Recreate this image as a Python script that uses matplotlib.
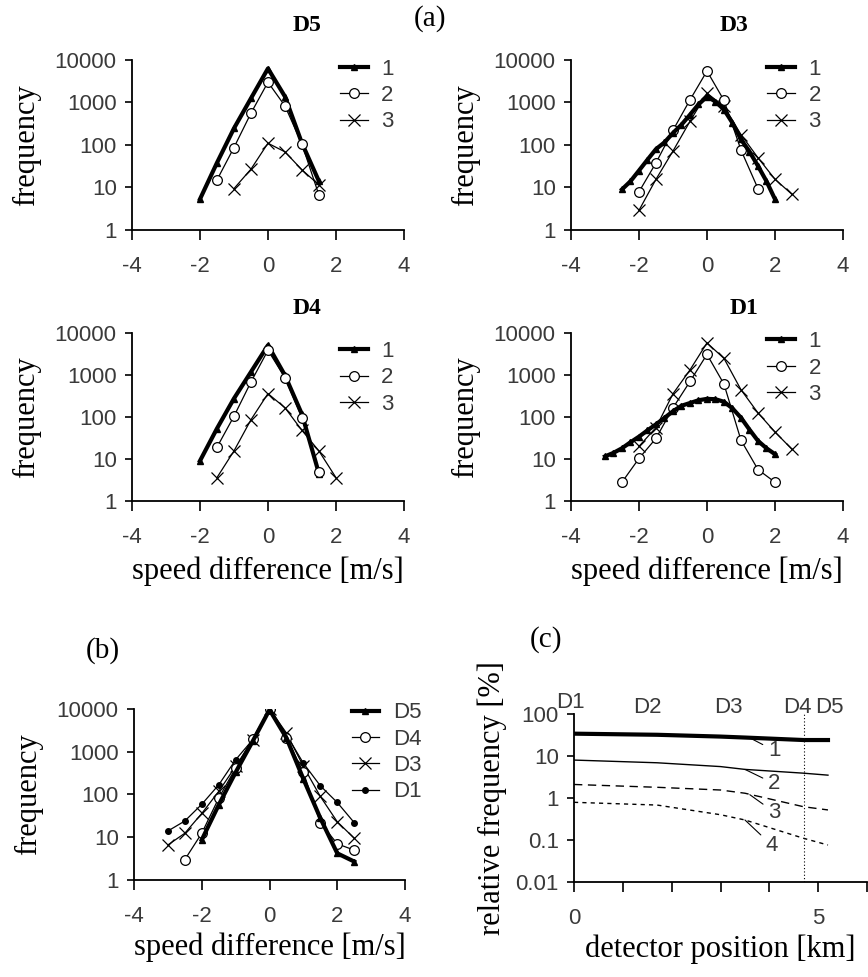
import numpy as np
import matplotlib
matplotlib.use("Agg")
import matplotlib.pyplot as plt
from matplotlib.ticker import FixedLocator, FixedFormatter, LogLocator, NullFormatter

SERIF = "Liberation Serif"
SANS = "Liberation Sans"

# ---------------------------------------------------------------------------
# Data
# ---------------------------------------------------------------------------

# (a) D5
d5_x1 = [-2, -1.5, -1, -0.5, 0, 0.5, 1, 1.5]
d5_y1 = [5.3, 38, 246, 1250, 6300, 1380, 110, 14]
d5_x2 = [-1.5, -1, -0.5, 0, 0.5, 1, 1.5]
d5_y2 = [15, 87, 560, 3000, 830, 105, 6.6]
d5_x3 = [-1, -0.5, 0, 0.5, 1, 1.5]
d5_y3 = [9.4, 27, 110, 69, 26, 11.5]

# (a) D3
d3_x1 = [-2.5, -2.25, -2, -1.75, -1.5, -1.25, -1, -0.75, -0.5, -0.25,
         0, 0.25, 0.5, 0.75, 1, 1.25, 1.5, 1.75, 2]
d3_y1 = [9, 14, 25, 45, 80, 115, 192, 300, 515, 900,
         1380, 1050, 680, 330, 135, 70, 32, 14, 5.3]
d3_x2 = [-2, -1.5, -1, -0.5, 0, 0.5, 1, 1.5]
d3_y2 = [7.9, 38, 222, 1150, 5500, 1120, 76, 9.4]
d3_x3 = [-2, -1.5, -1, -0.5, 0, 0.5, 1, 1.5, 2, 2.5]
d3_y3 = [2.9, 15.6, 72, 360, 1660, 810, 176, 50, 15.6, 6.9]

# (a) D4
d4_x1 = [-2, -1.5, -1, -0.5, 0, 0.5, 1, 1.5]
d4_y1 = [9, 53, 275, 1180, 5100, 980, 116, 4.5]
d4_x2 = [-1.5, -1, -0.5, 0, 0.5, 1, 1.5]
d4_y2 = [19, 104, 680, 3870, 860, 96, 4.9]
d4_x3 = [-1.5, -1, -0.5, 0, 0.5, 1, 1.5, 2]
d4_y3 = [3.6, 15.5, 86, 360, 166, 48, 15.5, 3.6]

# (a) D1
d1_x1 = [-3, -2.75, -2.5, -2.25, -2, -1.75, -1.5, -1.25, -1, -0.75, -0.5,
         -0.25, 0, 0.25, 0.5, 0.75, 1, 1.25, 1.5, 1.75, 2]
d1_y1 = [11.5, 14, 18, 25, 34, 48, 67, 95, 137, 185, 215,
         250, 270, 265, 230, 160, 96, 50, 27, 18, 13]
d1_x2 = [-2.5, -2, -1.5, -1, -0.5, 0, 0.5, 1, 1.5, 2]
d1_y2 = [2.8, 10.3, 31, 165, 700, 3090, 605, 28, 5.6, 2.8]
d1_x3 = [-2, -1.5, -1, -0.5, 0, 0.5, 1, 1.5, 2, 2.5]
d1_y3 = [20, 56, 357, 1320, 5800, 2480, 445, 125, 44, 17]

# (b) all detectors
b_x_d5 = [-2, -1.5, -1, -0.5, 0, 0.5, 1, 1.5, 2, 2.5]
b_y_d5 = [8.7, 57, 330, 1740, 9600, 2100, 230, 28, 4.2, 2.7]
b_x_d4 = [-2.5, -2, -1.5, -1, -0.5, 0, 0.5, 1, 1.5, 2, 2.5]
b_y_d4 = [3, 12.4, 82, 415, 2000, 10000, 2100, 330, 22, 7, 5]
b_x_d3 = [-3, -2.5, -2, -1.5, -1, -0.5, 0, 0.5, 1, 1.5, 2, 2.5]
b_y_d3 = [6.6, 12.4, 36, 118, 455, 1900, 10000, 2740, 455, 90, 23, 9.5]
b_x_d1 = [-3, -2.5, -2, -1.5, -1, -0.5, 0, 0.5, 1, 1.5, 2, 2.5]
b_y_d1 = [14, 24, 59, 168, 650, 1900, 9600, 2500, 540, 160, 65, 22]

# (c) relative frequency vs detector position
c_pos = [0, 1.7, 3.0, 3.5, 4.7, 5.2]
c_line1 = [34, 32, 29, 27.5, 24, 24]
c_line2 = [8.0, 6.9, 5.6, 4.8, 3.9, 3.5]
c_line3 = [2.1, 1.8, 1.55, 1.3, 0.62, 0.52]
c_line4 = [0.79, 0.68, 0.40, 0.30, 0.11, 0.076]
det_names = ["D1", "D2", "D3", "D4", "D5"]
det_label_x = [-0.08, 1.5, 3.17, 4.57, 5.22]
det_label_y = [190, 140, 140, 140, 140]
d4_line_x = 4.7
c_curve_labels = ["1", "2", "3", "4"]
c_curve_xy = [(3.6, 27), (3.5, 4.8), (3.6, 1.2), (3.5, 0.3)]
c_text_xy = [(4.1, 13.5), (4.1, 2.2), (4.1, 0.46), (4.05, 0.075)]

freq_ticks = [1, 10, 100, 1000, 10000]
freq_labels = ["1", "10", "100", "1000", "10000"]
speed_ticks = [-4, -2, 0, 2, 4]
rel_ticks = [0.01, 0.1, 1, 10, 100]
rel_labels = ["0.01", "0.1", "1", "10", "100"]
pos_ticks = [0, 1, 2, 3, 4, 5, 6]
pos_labels = ["0", "", "", "", "", "5", ""]

# ---------------------------------------------------------------------------
# Styles
# ---------------------------------------------------------------------------

TICK_FS = 16
LABEL_FS = 22
TITLE_FS = 17
TICK_COLOR = "#3a3a3a"

style1 = dict(color="black", lw=3.0, marker="^", ms=5, mfc="black", mec="black")
style2 = dict(color="black", lw=0.9, marker="o", ms=7, mfc="white", mec="black", mew=0.9)
style3 = dict(color="black", lw=0.9, marker="x", ms=8, mec="black", mew=0.9)
style_dot = dict(color="black", lw=0.9, marker="o", ms=4, mfc="black", mec="black")


def style_axes(ax):
    for side in ("top", "right"):
        ax.spines[side].set_visible(False)
    for side in ("left", "bottom"):
        ax.spines[side].set_linewidth(1.3)
    ax.tick_params(axis="both", which="major", direction="out", length=7,
                   width=1.2, labelsize=TICK_FS, labelcolor=TICK_COLOR)
    ax.tick_params(axis="x", which="major", pad=12)
    ax.tick_params(axis="y", which="major", length=5, pad=6)
    ax.tick_params(axis="y", which="minor", direction="out", length=3, width=0.9)
    for lab in ax.get_xticklabels() + ax.get_yticklabels():
        lab.set_fontfamily(SANS)


def freq_axes(ax):
    ax.set_yscale("log")
    ax.set_ylim(1, 10000)
    ax.set_xlim(-4, 4)
    ax.yaxis.set_major_locator(FixedLocator(freq_ticks))
    ax.yaxis.set_major_formatter(FixedFormatter(freq_labels))
    ax.yaxis.set_minor_locator(LogLocator(base=10, subs=np.arange(2, 10)))
    ax.yaxis.set_minor_formatter(NullFormatter())
    ax.xaxis.set_major_locator(FixedLocator(speed_ticks))
    ax.set_xticklabels([str(t) for t in speed_ticks])
    ax.set_ylabel("frequency", family=SERIF, fontsize=LABEL_FS, labelpad=10)
    style_axes(ax)


def make_legend(ax, handles, labels, loc_xy):
    leg = ax.legend(handles, labels, loc="upper left", bbox_to_anchor=loc_xy,
                    bbox_transform=fig.transFigure, frameon=False,
                    borderpad=0, borderaxespad=0, handlelength=1.25,
                    handletextpad=0.6, labelspacing=0.24,
                    prop={"family": SANS, "size": TICK_FS})
    for t in leg.get_texts():
        t.set_color(TICK_COLOR)


# ---------------------------------------------------------------------------
# Figure
# ---------------------------------------------------------------------------

fig = plt.figure(figsize=(8.68, 9.77), dpi=100)

ax_d5 = fig.add_axes([0.152, 0.7646, 0.3134, 0.174])
ax_d3 = fig.add_axes([0.6578, 0.7646, 0.3134, 0.174])
ax_d4 = fig.add_axes([0.152, 0.4872, 0.3134, 0.172])
ax_d1 = fig.add_axes([0.6578, 0.4872, 0.3134, 0.172])
ax_b = fig.add_axes([0.1544, 0.0993, 0.3122, 0.175])
ax_c = fig.add_axes([0.6613, 0.0972, 0.3376, 0.172])

panels = [
    (ax_d5, "D5", (d5_x1, d5_y1), (d5_x2, d5_y2), (d5_x3, d5_y3), (0.3537, 0.9744), (0.392, 0.940)),
    (ax_d3, "D3", (d3_x1, d3_y1), (d3_x2, d3_y2), (d3_x3, d3_y3), (0.8456, 0.9744), (0.884, 0.940)),
    (ax_d4, "D4", (d4_x1, d4_y1), (d4_x2, d4_y2), (d4_x3, d4_y3), (0.3537, 0.6847), (0.392, 0.651)),
    (ax_d1, "D1", (d1_x1, d1_y1), (d1_x2, d1_y2), (d1_x3, d1_y3), (0.857, 0.6847), (0.884, 0.661)),
]

for ax, name, s1, s2, s3, title_xy, leg_xy in panels:
    if name in ("D3", "D1"):
        # series 3 drawn below the thick series 1
        l3, = ax.plot(*s3, **style3)
        l2, = ax.plot(*s2, **style2)
        l1, = ax.plot(*s1, **style1)
    else:
        l1, = ax.plot(*s1, **style1)
        l2, = ax.plot(*s2, **style2)
        l3, = ax.plot(*s3, **style3)
    freq_axes(ax)
    fig.text(title_xy[0], title_xy[1], name, family=SERIF, fontsize=TITLE_FS,
             fontweight="bold", ha="center", va="center")
    make_legend(ax, [l1, l2, l3], ["1", "2", "3"], leg_xy)

for ax in (ax_d4, ax_d1):
    ax.set_xlabel("speed difference [m/s]", family=SERIF, fontsize=LABEL_FS, labelpad=6)

# (b)
lb3, = ax_b.plot(b_x_d3, b_y_d3, **style3)
lb1, = ax_b.plot(b_x_d1, b_y_d1, **style_dot)
lb4, = ax_b.plot(b_x_d4, b_y_d4, **style2)
lb5, = ax_b.plot(b_x_d5, b_y_d5, **style1)
freq_axes(ax_b)
ax_b.set_xlabel("speed difference [m/s]", family=SERIF, fontsize=LABEL_FS, labelpad=4)
make_legend(ax_b, [lb5, lb4, lb3, lb1], ["D5", "D4", "D3", "D1"], (0.405, 0.281))

# (c)
ax_c.plot(c_pos, c_line1, color="black", lw=3.0)
ax_c.plot(c_pos, c_line2, color="black", lw=1.0)
ax_c.plot(c_pos, c_line3, color="black", lw=1.0, linestyle=(0, (6, 4)))
ax_c.plot(c_pos, c_line4, color="black", lw=1.0, linestyle=(0, (3, 3)))
ax_c.axvline(d4_line_x, color="black", lw=0.8, linestyle=(0, (1, 2)))
ax_c.set_yscale("log")
ax_c.set_ylim(0.01, 100)
ax_c.set_xlim(0, 6)
ax_c.yaxis.set_major_locator(FixedLocator(rel_ticks))
ax_c.yaxis.set_major_formatter(FixedFormatter(rel_labels))
ax_c.yaxis.set_minor_locator(LogLocator(base=10, subs=np.arange(2, 10)))
ax_c.yaxis.set_minor_formatter(NullFormatter())
ax_c.xaxis.set_major_locator(FixedLocator(pos_ticks))
ax_c.xaxis.set_major_formatter(FixedFormatter(pos_labels))
style_axes(ax_c)
ax_c.set_xlabel("detector position [km]", family=SERIF, fontsize=LABEL_FS, labelpad=4)
ax_c.set_ylabel("relative frequency [%]", family=SERIF, fontsize=LABEL_FS, labelpad=6)

for name, x, y in zip(det_names, det_label_x, det_label_y):
    ax_c.text(x, y, name, family=SANS, fontsize=TICK_FS, color=TICK_COLOR,
              ha="center", va="center", clip_on=False)

for lab, xy, xyt in zip(c_curve_labels, c_curve_xy, c_text_xy):
    ax_c.annotate(lab, xy=xy, xytext=xyt, family=SANS, fontsize=TICK_FS,
                  color=TICK_COLOR, ha="center", va="center",
                  arrowprops=dict(arrowstyle="-", lw=0.8, color="black",
                                  shrinkA=2, shrinkB=0))

# panel labels
fig.text(0.495, 0.981, "(a)", family=SERIF, fontsize=21, ha="center", va="center")
fig.text(0.118, 0.334, "(b)", family=SERIF, fontsize=21, ha="center", va="center")
fig.text(0.629, 0.345, "(c)", family=SERIF, fontsize=21, ha="center", va="center")

fig.savefig("out.png", dpi=100)
